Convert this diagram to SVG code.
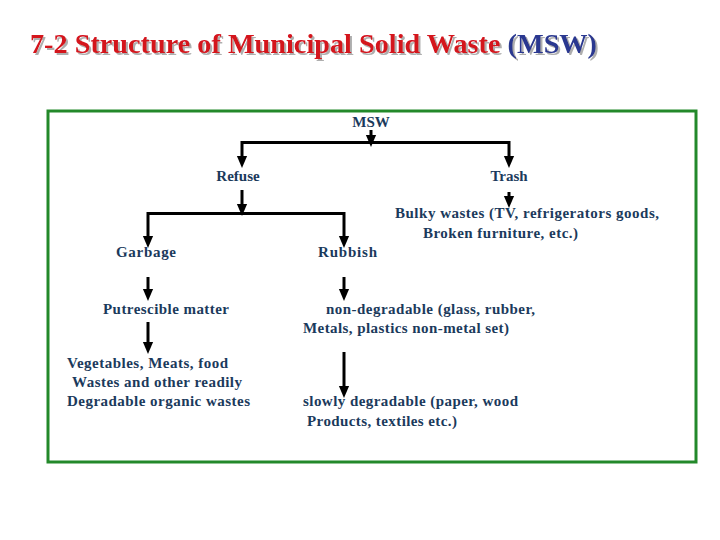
<svg xmlns="http://www.w3.org/2000/svg" width="720" height="540" viewBox="0 0 720 540">
<defs>
<marker id="ah" markerWidth="4" markerHeight="4" refX="2" refY="2" orient="auto" markerUnits="strokeWidth">
<path d="M0,0.3 L4,2 L0,3.7 z" fill="#000"/>
</marker>
<filter id="sh" x="-5%" y="-30%" width="110%" height="160%">
<feDropShadow dx="2" dy="2" stdDeviation="0.6" flood-color="#9a9a9a" flood-opacity="0.8"/>
</filter>
<style>
.t{font-family:"Liberation Serif","Times New Roman",serif;font-size:15px;font-weight:bold;fill:#1b3a5c;}
.c{stroke:#000;stroke-width:3;fill:none;}
.a{stroke:#000;stroke-width:3;fill:none;marker-end:url(#ah);}
.ttl{font-family:"Liberation Serif","Times New Roman",serif;font-size:27px;font-weight:bold;}
</style>
</defs>
<rect width="720" height="540" fill="#fff"/>
<g id="title">
<text class="ttl" x="30" y="53" textLength="567" lengthAdjust="spacingAndGlyphs" filter="url(#sh)"><tspan fill="#d4121c">7-2 Structure of Municipal Solid Waste </tspan><tspan fill="#2b3990">(MSW)</tspan></text>
</g>
<rect id="frame" x="48" y="111" width="648" height="351" fill="none" stroke="#23892a" stroke-width="3"/>
<g id="connectors">
<path class="a" d="M371,130 V141"/>
<path class="c" d="M242,142.5 H509"/>
<path class="a" d="M242,141 V162"/>
<path class="a" d="M509,141 V162"/>
<path class="a" d="M242,190 V210"/>
<path class="c" d="M148,213.5 H344"/>
<path class="a" d="M148,212 V242"/>
<path class="a" d="M344,212 V242"/>
<path class="a" d="M509,192 V202"/>
<path class="a" d="M148,277 V295"/>
<path class="a" d="M344,277 V295"/>
<path class="a" d="M148,322 V348"/>
<path class="a" d="M344,352 V392"/>
</g>
<g id="msw"><text class="t" x="371" y="127" text-anchor="middle" font-size="13" font-weight="normal">MSW</text></g>
<g id="refuse"><text class="t" x="238" y="181" text-anchor="middle" font-weight="normal">Refuse</text></g>
<g id="trash"><text class="t" x="509" y="181" text-anchor="middle" font-weight="normal">Trash</text></g>
<g id="bulky">
<text class="t" x="395" y="218" textLength="264">Bulky wastes (TV, refrigerators goods,</text>
<text class="t" x="423" y="238" textLength="155">Broken furniture, etc.)</text>
</g>
<g id="garbage"><text class="t" x="116" y="257" textLength="60">Garbage</text></g>
<g id="rubbish"><text class="t" x="318" y="257" textLength="59">Rubbish</text></g>
<g id="putrescible"><text class="t" x="103" y="314" textLength="126">Putrescible matter</text></g>
<g id="vegetables">
<text class="t" x="67" y="368" textLength="161">Vegetables, Meats, food</text>
<text class="t" x="72" y="387" textLength="170">Wastes and other readily</text>
<text class="t" x="67" y="406" textLength="183">Degradable organic wastes</text>
</g>
<g id="nondegradable">
<text class="t" x="326" y="314" textLength="209">non-degradable (glass, rubber,</text>
<text class="t" x="303" y="333" textLength="206">Metals, plastics non-metal set)</text>
</g>
<g id="slowly">
<text class="t" x="303" y="406" textLength="215">slowly degradable (paper, wood</text>
<text class="t" x="307" y="426" textLength="150">Products, textiles etc.)</text>
</g>
</svg>
